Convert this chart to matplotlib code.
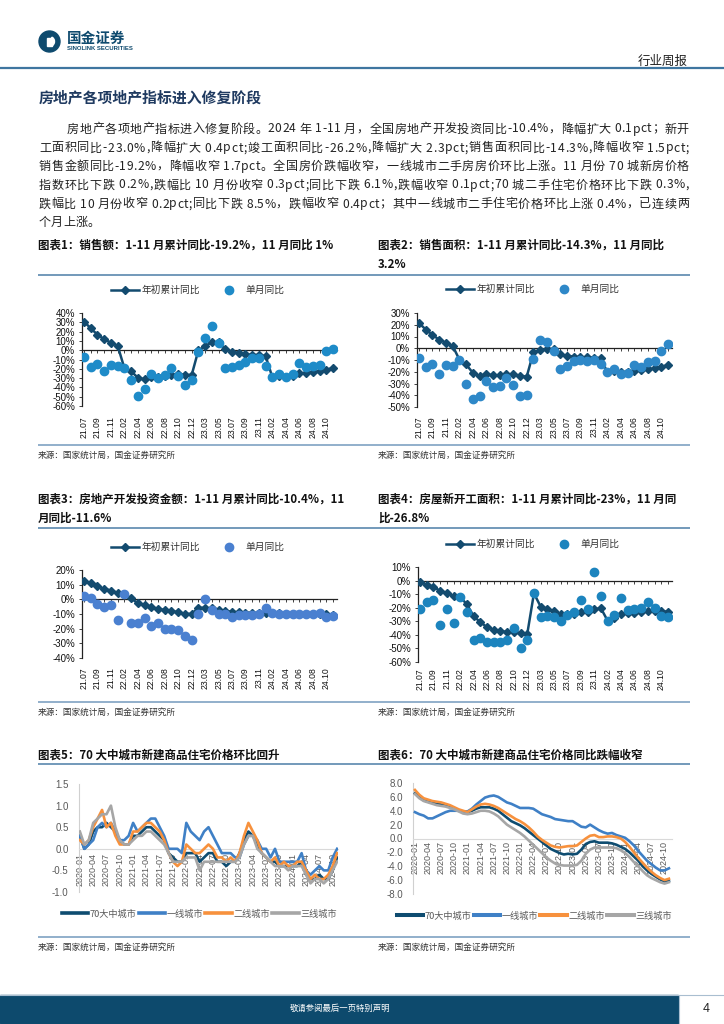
import matplotlib
matplotlib.use("Agg")
import matplotlib.pyplot as plt
from matplotlib.patches import Rectangle, Circle, Wedge
from matplotlib.lines import Line2D
import numpy as np

CJK = ['Noto Sans CJK SC', 'DejaVu Sans']
NUM = ['Liberation Sans', 'DejaVu Sans']
plt.rcParams['font.family'] = CJK
plt.rcParams['axes.unicode_minus'] = False

# ---------------------------------------------------------------- data
months_a = ['21.07', '21.08', '21.09', '21.10', '21.11', '21.12',
            '22.02', '22.03', '22.04', '22.05', '22.06', '22.07', '22.08', '22.09', '22.10', '22.11', '22.12',
            '23.02', '23.03', '23.04', '23.05', '23.06', '23.07', '23.08', '23.09', '23.10', '23.11', '23.12',
            '24.02', '24.03', '24.04', '24.05', '24.06', '24.07', '24.08', '24.09', '24.10', '24.11']

sales_amt_cum = [30.7, 23.6, 16.6, 11.8, 8.0, 4.8,
                 -19.3, -22.7, -29.5, -31.5, -28.9, -28.8, -27.9, -26.3, -26.1, -26.6, -26.7,
                 -0.1, 4.1, 8.8, 8.4, 1.1, -1.5, -3.2, -4.6, -4.9, -5.2, -6.5,
                 -29.3, -27.6, -28.3, -27.9, -25.0, -24.3, -23.6, -22.7, -20.9, -19.2]
sales_amt_mon = [-7, -18, -15, -22, -16, -17,
                 -19.3, -32, -49, -42, -26, -30, -27, -19, -28, -37, -32,
                 -2, 13, 26, 8, -19, -18, -16, -13, -8, -8, -17,
                 -29.3, -26, -29, -26, -14, -18, -17, -16, -1, 1]

sales_area_cum = [21.5, 15.9, 11.3, 7.3, 4.8, 1.9,
                  -9.6, -13.8, -20.9, -23.6, -22.2, -23.1, -23.0, -22.2, -22.3, -23.3, -24.3,
                  -3.6, -1.8, -0.4, -0.9, -5.3, -6.5, -7.1, -7.5, -7.8, -8.0, -8.5,
                  -20.5, -19.4, -20.2, -20.3, -19.0, -18.6, -18.0, -17.1, -15.8, -14.3]
sales_area_mon = [-8, -16, -13, -22, -14, -15,
                  -9.6, -30, -43, -41, -28, -33, -32, -25, -31, -41, -40,
                  -9, 7, 5, -2, -18, -15, -11, -10, -11, -10, -13,
                  -20.5, -18, -22, -21, -14, -16, -12, -11, -2, 3.2]

invest_cum = [12.7, 10.9, 8.8, 7.2, 6.0, 4.4,
              3.7, 0.7, -2.7, -4.0, -5.4, -6.4, -7.4, -8.0, -8.8, -9.8, -10.0,
              -5.7, -5.8, -6.2, -7.2, -7.9, -8.5, -8.8, -9.1, -9.3, -9.4, -9.6,
              -9.0, -9.5, -9.8, -10.1, -10.1, -10.2, -10.2, -10.1, -10.3, -10.4]
invest_mon = [2, 1, -3, -5, -4, -14,
              3.7, -16, -16, -13, -18, -16, -20, -20, -21, -25, -28,
              -10, 0, -7, -10, -10, -12, -11, -11, -11, -10, -6,
              -9.0, -10, -10, -10, -10, -10, -10, -9, -12, -11.6]

newstart_cum = [-0.9, -3.2, -4.5, -7.7, -9.1, -11.4,
                -12.2, -17.5, -26.3, -30.6, -34.4, -36.1, -37.2, -38.0, -37.8, -38.9, -39.4,
                -9.4, -19.2, -21.2, -22.6, -24.3, -24.5, -24.4, -23.4, -23.2, -21.2, -20.4,
                -29.7, -27.8, -24.6, -24.2, -23.7, -23.2, -22.5, -22.2, -22.6, -23.0]
newstart_mon = [-21, -16, -14, -33, -21, -31,
                -12.2, -23, -44, -42, -45, -45, -45, -44, -35, -50, -44,
                -9.4, -27, -26, -27, -30, -25, -23, -14, -21, 6, -11,
                -29.7, -25, -13, -22, -21, -20, -16, -20, -26, -26.8]

price_ticks = ['2020-01', '2020-04', '2020-07', '2020-10', '2021-01', '2021-04', '2021-07',
               '2021-10', '2022-01', '2022-04', '2022-07', '2022-10', '2023-01', '2023-04',
               '2023-07', '2023-10', '2024-01', '2024-04', '2024-07', '2024-10']
city_names = ['70大中城市', '一线城市', '二线城市', '三线城市']

mom_70 = [0.3, 0.0, 0.1, 0.4, 0.5, 0.5, 0.6, 0.5, 0.4, 0.2, 0.1, 0.1,
          0.3, 0.3, 0.4, 0.5, 0.5, 0.4, 0.3, 0.2, -0.1, -0.2, -0.3, -0.3,
          -0.1, -0.1, -0.1, -0.3, -0.2, -0.1, -0.1, -0.3, -0.3, -0.4, -0.3, -0.3,
          -0.1, 0.2, 0.4, 0.3, 0.1, -0.1, -0.2, -0.3, -0.3, -0.4, -0.4, -0.4,
          -0.4, -0.4, -0.3, -0.6, -0.7, -0.7, -0.6, -0.7, -0.7, -0.5, -0.2]
mom_t1 = [0.3, 0.0, 0.1, 0.2, 0.5, 0.6, 0.5, 0.6, 0.4, 0.2, 0.2, 0.3,
          0.6, 0.4, 0.5, 0.6, 0.7, 0.7, 0.5, 0.3, 0.0, 0.0, 0.0, -0.1,
          0.6, 0.4, 0.3, 0.2, 0.4, 0.5, 0.3, 0.1, -0.1, -0.1, -0.1, -0.2,
          -0.2, 0.1, 0.3, 0.3, 0.2, 0.0, 0.0, -0.2, 0.0, -0.3, -0.3, -0.3,
          -0.3, -0.3, -0.1, -0.5, -0.6, -0.5, -0.4, -0.5, -0.5, -0.2, 0.0]
mom_t2 = [0.2, 0.1, 0.2, 0.5, 0.7, 0.9, 0.5, 0.6, 0.3, 0.1, 0.1, 0.1,
          0.4, 0.4, 0.5, 0.6, 0.6, 0.5, 0.4, 0.2, -0.1, -0.3, -0.4, -0.3,
          0.1, 0.0, -0.1, -0.1, 0.0, 0.1, 0.0, -0.2, -0.2, -0.3, -0.2, -0.3,
          -0.1, 0.3, 0.6, 0.4, 0.2, -0.1, -0.2, -0.3, -0.2, -0.4, -0.3, -0.4,
          -0.4, -0.3, -0.3, -0.5, -0.7, -0.6, -0.7, -0.7, -0.6, -0.4, -0.1]
mom_t3 = [0.4, 0.1, 0.2, 0.6, 0.7, 0.8, 0.8, 1.0, 0.5, 0.2, 0.1, 0.1,
          0.2, 0.3, 0.3, 0.4, 0.4, 0.3, 0.2, 0.1, -0.1, -0.3, -0.3, -0.3,
          -0.2, -0.2, -0.2, -0.5, -0.3, -0.3, -0.3, -0.3, -0.3, -0.3, -0.3, -0.3,
          -0.2, 0.1, 0.3, 0.3, 0.0, -0.1, -0.2, -0.3, -0.4, -0.4, -0.4, -0.5,
          -0.4, -0.4, -0.4, -0.6, -0.8, -0.7, -0.7, -0.8, -0.7, -0.5, -0.3]

yoy_70 = [6.5, 6.0, 5.5, 5.3, 5.2, 5.0, 4.9, 4.8, 4.6, 4.3, 4.0, 3.9,
          3.8, 4.0, 4.3, 4.5, 4.5, 4.5, 4.3, 4.0, 3.5, 3.0, 2.5, 2.2,
          1.9, 1.5, 1.0, 0.5, 0.0, -0.5, -1.0, -1.5, -1.8, -2.1, -2.3, -2.2,
          -2.3, -2.2, -1.6, -0.8, -0.5, -0.4, -0.6, -0.6, -0.6, -0.7, -0.9, -1.2,
          -1.5, -2.0, -2.6, -3.2, -4.0, -4.6, -5.1, -5.5, -5.9, -6.2, -6.1]
yoy_t1 = [3.8, 3.5, 3.3, 2.9, 2.9, 3.2, 3.5, 3.8, 4.0, 4.0, 4.0, 3.9,
          3.9, 4.3, 4.9, 5.4, 5.9, 6.1, 6.2, 6.0, 5.6, 5.2, 5.0, 4.7,
          4.4, 4.4, 4.4, 4.3, 3.9, 3.5, 3.3, 3.1, 2.8, 2.7, 2.6, 2.5,
          2.5, 2.1, 1.7, 1.6, 2.0, 1.6, 1.2, 0.9, 0.7, 0.8, 0.5, 0.3,
          0.1, -0.4, -1.0, -1.8, -2.5, -3.2, -3.7, -4.2, -4.6, -4.6, -4.3]
yoy_t2 = [7.0, 6.3, 5.8, 5.6, 5.4, 5.3, 5.2, 5.0, 4.8, 4.5, 4.2, 4.0,
          3.8, 4.2, 4.6, 4.9, 5.0, 4.9, 4.7, 4.4, 4.0, 3.6, 3.2, 2.8,
          2.5, 2.1, 1.6, 1.0, 0.3, -0.2, -0.6, -1.0, -1.2, -1.3, -1.2, -1.1,
          -1.1, -1.0, -0.5, 0.0, 0.4, 0.5, 0.2, 0.2, 0.3, 0.3, 0.2, 0.0,
          -0.5, -1.2, -2.0, -2.8, -3.5, -4.2, -4.8, -5.3, -5.7, -6.0, -5.8]
yoy_t3 = [6.4, 5.8, 5.4, 5.2, 5.0, 4.8, 4.7, 4.6, 4.4, 4.2, 3.9, 3.6,
          3.5, 3.6, 3.8, 4.0, 4.0, 3.9, 3.6, 3.2, 2.6, 2.0, 1.6, 1.2,
          0.8, 0.3, -0.3, -0.9, -1.5, -2.1, -2.7, -3.2, -3.6, -3.8, -3.9, -3.9,
          -3.9, -3.8, -3.2, -2.2, -1.6, -1.3, -1.3, -1.3, -1.3, -1.3, -1.4, -1.7,
          -2.1, -2.7, -3.4, -4.0, -4.7, -5.3, -5.7, -6.0, -6.3, -6.5, -6.3]

body_lines = [
    "房地产各项地产指标进入修复阶段。2024 年 1-11 月，全国房地产开发投资同比-10.4%，降幅扩大 0.1pct；新开",
    "工面积同比-23.0%,降幅扩大 0.4pct;竣工面积同比-26.2%,降幅扩大 2.3pct;销售面积同比-14.3%,降幅收窄 1.5pct;",
    "销售金额同比-19.2%，降幅收窄 1.7pct。全国房价跌幅收窄，一线城市二手房房价环比上涨。11 月份 70 城新房价格",
    "指数环比下跌 0.2%,跌幅比 10 月份收窄 0.3pct;同比下跌 6.1%,跌幅收窄 0.1pct;70 城二手住宅价格环比下跌 0.3%,",
    "跌幅比 10 月份收窄 0.2pct;同比下跌 8.5%，跌幅收窄 0.4pct；其中一线城市二手住宅价格环比上涨 0.4%，已连续两",
    "个月上涨。",
]

# ---------------------------------------------------------------- figure
W, H = 724, 1024
fig = plt.figure(figsize=(W / 100, H / 100), dpi=100)
fig.patch.set_facecolor('white')
bg = fig.add_axes([0, 0, 1, 1])
bg.set_xlim(0, W)
bg.set_ylim(H, 0)
bg.axis('off')

NAVY = '#0E4A6E'
RULE = '#5A87AE'
LINE_C = '#134B6F'


def add_ax(l, t, r, b):
    a = fig.add_axes([l / W, 1 - b / H, (r - l) / W, (b - t) / H])
    a.set_facecolor('none')
    return a


# header
bg.add_patch(Circle((49.5, 41.5), 10.5, color=NAVY, zorder=2))
bg.add_patch(Wedge((49.5, 41.5), 5.0, -60, 60, color='white', zorder=3))
bg.add_patch(Rectangle((46.5, 37.5), 5, 8, color='white', zorder=3))
bg.text(67, 37.5, "国金证券", fontsize=10.5, fontweight='bold', color=NAVY, va='center', ha='left')
bg.text(67, 49, "SINOLINK SECURITIES", fontsize=4.3, fontweight='bold', color=NAVY, va='center', ha='left',
        family=NUM)
bg.text(688, 61, "行业周报", fontsize=9, color='#222222', va='center', ha='right')
bg.plot([0, W], [68, 68], color='#3F76A0', lw=1.6)

bg.text(39, 97, "房地产各项地产指标进入修复阶段", fontsize=10.7, fontweight='bold', color='#1F3A60',
        va='center', ha='left')

# body paragraph, justified
renderer = fig.canvas.get_renderer()
_cache = {}


def char_w(ch, fs):
    key = (ch, fs)
    if key not in _cache:
        t1 = bg.text(0, 0, "x" + ch + "x", fontsize=fs)
        t2 = bg.text(0, 0, "xx", fontsize=fs)
        w = t1.get_window_extent(renderer).width - t2.get_window_extent(renderer).width
        t1.remove()
        t2.remove()
        _cache[key] = w
    return _cache[key]


def draw_line(s, x0, x1, y, fs, justify=True):
    ws = [char_w(c, fs) for c in s]
    total = sum(ws)
    extra = (x1 - x0 - total) / (len(s) - 1) if (justify and len(s) > 1) else 0
    x = x0
    for c, w in zip(s, ws):
        if c != ' ':
            bg.text(x, y, c, fontsize=fs, color='#222222', va='center', ha='left')
        x += w + extra


body_y = [129, 148, 166.5, 185, 204, 222.5]
for i, s in enumerate(body_lines):
    x0 = 67 if i == 0 else 39
    draw_line(s, x0, 689, body_y[i], 8.7, justify=(i < len(body_lines) - 1))

# ---------------------------------------------------------------- chart helpers
def hrule(y, x0=38, x1=690, color=RULE, lw=1.2):
    bg.plot([x0, x1], [y, y], color=color, lw=lw, solid_capstyle='butt')


def title(x, y, s):
    bg.text(x, y, s, fontsize=8.3, fontweight='bold', color='#111111', va='center', ha='left')


def source(x, y):
    bg.text(x, y, "来源：国家统计局，国金证券研究所", fontsize=6.2, color='#333333', va='center', ha='left')


def yoy_chart(rect, cum, mon, dot_color, ylim, ystep, leg_xy, xpad):
    ax = add_ax(*rect)
    x = np.arange(len(months_a))
    ax.plot(x, cum, color=LINE_C, lw=1.8, marker='D', ms=3.8, mfc=LINE_C, mec=LINE_C,
            label='年初累计同比', zorder=3)
    ax.plot(x, mon, ls='none', marker='o', ms=6.0, mfc=dot_color, mec=dot_color,
            label='单月同比', zorder=4)
    ax.set_ylim(*ylim)
    ax.set_xlim(-0.3, len(x) - 1 + 0.6)
    yt = np.arange(ylim[0], ylim[1] + 0.1, ystep)
    ax.set_yticks(yt)
    ax.set_yticklabels([f'{int(v)}%' for v in yt])
    ax.set_xticks(x)
    ax.set_xticklabels([m if i % 2 == 0 else '' for i, m in enumerate(months_a)])
    for sp in ('right', 'bottom'):
        ax.spines[sp].set_visible(False)
    ax.spines['top'].set_position(('data', 0))
    ax.spines['top'].set_color('#222222')
    ax.spines['top'].set_linewidth(0.9)
    ax.spines['left'].set_color('#222222')
    ax.spines['left'].set_linewidth(0.9)
    ax.tick_params(axis='x', bottom=False, top=True, labelbottom=True, labeltop=False,
                   direction='in', length=2.5, width=0.6, color='#222222', labelsize=6.2,
                   pad=xpad, labelfontfamily='Liberation Sans', labelcolor='#111111',
                   labelrotation=90)
    ax.tick_params(axis='y', direction='out', length=2.5, width=0.6, color='#222222',
                   labelsize=7, pad=2.5, labelfontfamily='Liberation Sans', labelcolor='#111111')
    ax.legend(loc='center', bbox_to_anchor=(leg_xy[0] / W, 1 - leg_xy[1] / H),
              bbox_transform=fig.transFigure, ncol=2, frameon=False, fontsize=7,
              handlelength=2.8, handletextpad=0.3, columnspacing=1.6, labelcolor='#333333')
    return ax


# chart 1 & 2
title(38, 245, "图表1：销售额：1-11 月累计同比-19.2%，11 月同比 1%")
title(378, 245, "图表2：销售面积：1-11 月累计同比-14.3%，11 月同比")
title(378, 264, "3.2%")
hrule(275)
yoy_chart((82, 313, 337, 406), sales_amt_cum, sales_amt_mon, '#1E8BC8', (-60, 40), 10, (198, 290), 7.5)
yoy_chart((417, 313, 672, 407), sales_area_cum, sales_area_mon, '#2E88C8', (-50, 30), 10, (533, 289), 6.5)
hrule(445, color='#7FA2C2')
source(38, 455)
source(378, 455)

# chart 3 & 4
title(38, 499, "图表3：房地产开发投资金额：1-11 月累计同比-10.4%，11")
title(38, 518, "月同比-11.6%")
title(378, 499, "图表4：房屋新开工面积：1-11 月累计同比-23%，11 月同")
title(378, 518, "比-26.8%")
hrule(528)
yoy_chart((82, 570, 337, 658), invest_cum, invest_mon, '#4A80D0', (-40, 20), 10, (198, 547), 6.5)
yoy_chart((418, 567, 672, 662), newstart_cum, newstart_mon, '#1C84BE', (-60, 10), 10, (533, 544), 4.5)
hrule(702, color='#7FA2C2')
source(38, 712)
source(378, 712)

# chart 5 & 6
title(38, 755, "图表5：70 大中城市新建商品住宅价格环比回升")
title(378, 755, "图表6：70 大中城市新建商品住宅价格同比跌幅收窄")
hrule(764)

city_colors = ['#0E4C70', '#3F80C6', '#F7913D', '#A6A6A6']


def price_chart(rect, series, ylim, ystep, xlim, leg_xy, ypad, xpad, leg_lw):
    ax = add_ax(*rect)
    x = np.arange(len(series[0]))
    for s, c in zip(series, city_colors):
        ax.plot(x, s, color=c, lw=1.9, solid_joinstyle='round', zorder=3)
    ax.set_ylim(*ylim)
    ax.set_xlim(*xlim)
    yt = np.arange(ylim[0], ylim[1] + 0.01, ystep)
    ax.set_yticks(yt)
    ax.set_yticklabels([f'{v:.1f}' for v in yt])
    ax.set_xticks(np.arange(0, len(x), 3))
    ax.set_xticklabels(price_ticks)
    for sp in ('right', 'top'):
        ax.spines[sp].set_visible(False)
    ax.spines['bottom'].set_position(('data', 0))
    ax.spines['bottom'].set_color('#D9D9D9')
    ax.spines['left'].set_color('#D0D0D0')
    ax.tick_params(axis='x', length=0, labelsize=6.5, pad=xpad, labelcolor='#595959',
                   labelfontfamily='Liberation Sans', labelrotation=90)
    ax.tick_params(axis='y', length=0, labelsize=7, pad=ypad, labelcolor='#595959',
                   labelfontfamily='Liberation Sans')
    handles = [Line2D([], [], color=c, lw=leg_lw) for c in city_colors]
    ax.legend(handles, city_names, loc='center', bbox_to_anchor=(leg_xy[0] / W, 1 - leg_xy[1] / H),
              bbox_transform=fig.transFigure, ncol=4, frameon=False, fontsize=6.6,
              handlelength=2.9, handletextpad=0.15, columnspacing=0.25, labelcolor='#595959')
    return ax


price_chart((79, 784, 338, 892), [mom_70, mom_t1, mom_t2, mom_t3], (-1.0, 1.5), 0.5,
            (-0.2, 58.2), (199, 914), 7.5, 3, 2.6)
price_chart((413, 783, 672, 894), [yoy_70, yoy_t1, yoy_t2, yoy_t3], (-8.0, 8.0), 2.0,
            (-0.45, 58.7), (534, 916), 7, 1.5, 2.9)
hrule(937, color='#7FA2C2')
source(38, 947)
source(378, 947)

# footer
bg.add_patch(Rectangle((0, 995), 678, 28, color='#0D4A6D', zorder=2))
bg.plot([0, W], [994.5, 994.5], color='#A9BED0', lw=0.8)
bg.plot([678.5, 678.5], [995, 1024], color='#A9BED0', lw=0.8)
bg.text(340, 1008.5, "敬请参阅最后一页特别声明", fontsize=6, color='white', va='center', ha='center', zorder=3)
bg.text(706, 1008.5, "4", fontsize=9, color='#222222', va='center', ha='center', family=NUM)

fig.savefig('out.png', dpi=100, facecolor='white')
